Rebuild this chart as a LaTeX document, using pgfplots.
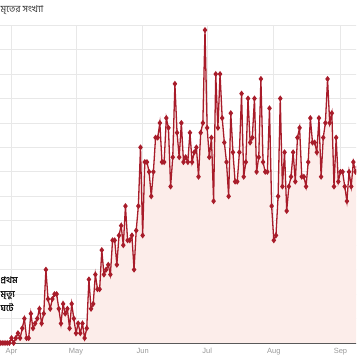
\documentclass[border=0pt]{standalone}
\usepackage{pgfplots}
\pgfplotsset{compat=1.18}
\usepackage{pgfplotstable}
\usepackage{fontspec}
\setmainfont{Liberation Sans}
\newfontfamily\bn[Script=Bengali]{Hind Siliguri}
\definecolor{linered}{HTML}{A81C2A}
\definecolor{fillred}{HTML}{FCEDEA}
\definecolor{gridc}{HTML}{E8E8E8}
\pgfplotstableread{
d v
-10 0
-9 0
-8 1
-7 1
-6 0
-5 0
-4 0
-3 0
-2 0
-1 0
0 1
1 0
2 1
3 2
4 1
5 3
6 5
7 1
8 1
9 6
10 3
11 4
12 5
13 7
14 4
15 6
16 15
17 9
18 7
19 9
20 10
21 10
22 7
23 4
24 8
25 6
26 7
27 3
28 8
29 5
30 2
31 4
32 2
33 4
34 1
35 3
36 13
37 7
38 8
39 14
40 11
41 11
42 19
43 14
44 15
45 16
46 14
47 21
48 21
49 16
50 22
51 24
52 20
53 28
54 21
55 21
56 22
57 15
58 23
59 28
60 40
61 22
62 37
63 37
64 35
65 30
66 35
67 42
68 42
69 45
70 37
71 37
72 46
73 44
74 32
75 38
76 53
77 43
78 38
79 45
80 37
81 38
82 37
83 43
84 37
85 39
86 40
87 34
88 43
89 45
90 64
91 44
92 38
93 42
94 29
95 55
96 44
97 55
98 46
99 41
100 37
101 30
102 47
103 39
104 33
105 33
106 39
107 51
108 34
109 37
110 50
111 41
112 42
113 50
114 35
115 38
116 54
117 37
118 35
119 35
120 48
121 28
122 21
123 22
124 30
125 50
126 32
127 39
128 27
129 32
130 34
131 39
132 33
133 42
134 44
135 34
136 34
137 32
138 37
139 46
140 41
141 41
142 39
143 46
144 34
145 42
146 45
147 54
148 45
149 47
150 32
151 42
152 33
153 35
154 35
155 32
156 29
157 35
158 32
159 37
160 35
161 36
}\deaths
\begin{document}
\begin{tikzpicture}
\useasboundingbox (10pt,-21pt) rectangle (366pt,343pt);
\clip (10pt,-21pt) rectangle (366pt,343pt);
\begin{axis}[
  at={(0pt,0pt)}, anchor=south west,
  scale only axis, width=378.4pt, height=317.85pt,
  xmin=-10, xmax=166, ymin=0, ymax=65,
  axis line style={draw=none},
  xtick={0,30,61,91,122,153},
  xticklabels={Apr,May,Jun,Jul,Aug,Sep},
  ytick={5,10,...,65}, yticklabels={},
  major tick length=0pt,
  xmajorgrids, ymajorgrids,
  grid style={gridc, line width=0.8pt},
  xticklabel style={font=\fontsize{7.5}{8}\selectfont, text=gray!80, yshift=-1.5pt},
  clip=false,
]
\addplot[fill=fillred, draw=none] table[x=d,y=v] {\deaths} \closedcycle;
\addplot[color=linered, line width=1.3pt, mark=diamond*, mark size=2pt, mark options={solid, fill=linered}] table[x=d,y=v] {\deaths};
\draw[gray!70!black, line width=0.9pt] (axis cs:-10,0) -- (axis cs:166,0);
\end{axis}
\node[anchor=west, inner sep=0pt, font=\bn\fontsize{9.5}{11}\selectfont, text=black!80] at (10.5pt,333pt) {মৃতের সংখ্যা};
\node[anchor=north west, inner sep=0pt, font=\bn\bfseries\fontsize{9}{14}\selectfont, align=left] at (10.5pt,66pt) {প্রথম\\ মৃত্যু\\ ঘটে};
\end{tikzpicture}
\end{document}
